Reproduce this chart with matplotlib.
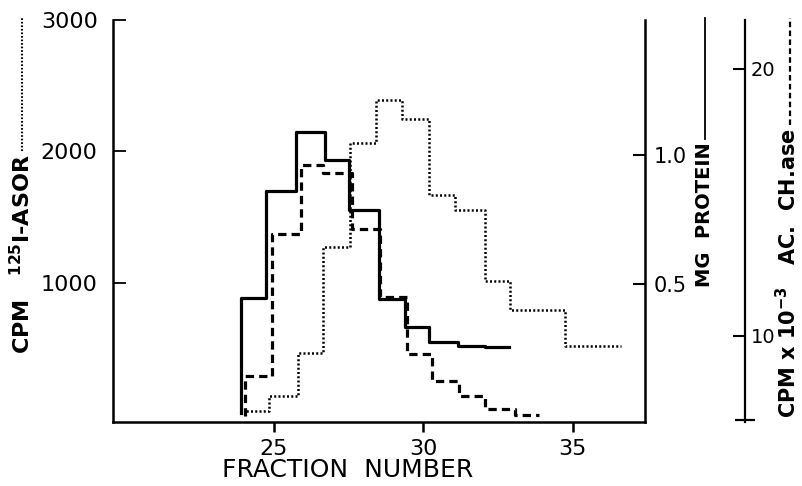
import matplotlib
matplotlib.use("Agg")
import matplotlib.pyplot as plt
from matplotlib.lines import Line2D

# step edges (fraction number) and step heights
asor_edges = [24.05, 24.85, 25.8, 26.65, 27.55, 28.4, 29.3, 30.2, 31.05, 32.05, 32.9, 34.75, 36.6]
asor_cpm = [25, 135, 465, 1270, 2060, 2390, 2245, 1665, 1555, 1010, 790, 515]

protein_edges = [23.9, 24.75, 25.75, 26.7, 27.5, 28.5, 29.4, 30.2, 31.15, 32.05, 32.85]
protein_mg = [0.445, 0.86, 1.09, 0.98, 0.785, 0.44, 0.335, 0.275, 0.26, 0.255]

ache_edges = [24.05, 24.95, 25.9, 26.65, 27.6, 28.55, 29.45, 30.3, 31.2, 32.05, 33.05, 33.85]
ache_cpm_k = [8.5, 13.8, 16.4, 16.1, 14.0, 11.45, 9.3, 8.3, 7.75, 7.25, 7.05]
ache_base = 7.0

x_ticks = [25, 30, 35]
asor_ticks = [1000, 2000, 3000]
protein_ticks = [0.5, 1.0]
ache_ticks = [10, 20]


def stair_xy(edges, values, base):
    xs = [edges[0]] + list(edges)
    ys = [base] + list(values) + [values[-1]]
    return xs, ys


W, H = 802, 486
fig = plt.figure(figsize=(W / 100, H / 100), dpi=100)
ax = fig.add_axes([113 / W, 1 - 422 / H, (645 - 113) / W, (422 - 20) / H])
ax2 = ax.twinx()
ax3 = ax.twinx()

xs, ys = stair_xy(asor_edges, asor_cpm, 0)
ax.step(xs, ys, where='post', color='k', lw=1.8, ls=(0, (0.8, 0.9)))
xs, ys = stair_xy(protein_edges, protein_mg, 0)
ax2.step(xs, ys, where='post', color='k', lw=2.3)
xs, ys = stair_xy(ache_edges, ache_cpm_k, ache_base)
ax3.step(xs, ys, where='post', color='k', lw=2.3, ls=(0, (2.6, 1.6)))

ax.set_xlim(19.62, 37.41)
ax.set_ylim(-61, 3000)
ax2.set_ylim(-0.035, 1.523)
ax3.set_ylim(6.77, 21.82)

for s in ['top', 'right']:
    ax.spines[s].set_visible(False)
for s in ['top', 'left', 'bottom']:
    ax2.spines[s].set_visible(False)
    ax3.spines[s].set_visible(False)
ax.spines['left'].set_linewidth(1.8)
ax.spines['bottom'].set_linewidth(1.8)
ax2.spines['right'].set_linewidth(1.8)
ax3.spines['right'].set_linewidth(1.6)
ax3.spines['right'].set_position(('axes', (745 - 113) / (645 - 113)))

ax.set_xticks(x_ticks)
ax.tick_params(axis='x', direction='out', length=7, width=1.8, pad=5, labelsize=16)
ax.set_yticks(asor_ticks)
ax.tick_params(axis='y', direction='in', length=9, width=1.3, pad=11, labelsize=16)
ax2.set_yticks(protein_ticks)
ax2.set_yticklabels(['0.5', '1.0'])
ax2.tick_params(axis='y', direction='in', length=9, width=1.5, pad=6, labelsize=15)
ax3.set_yticks(ache_ticks)
ax3.tick_params(axis='y', direction='in', length=9, width=1.5, pad=4, labelsize=14)
ax3.set_yticks([6.85], minor=True)
ax3.tick_params(axis='y', which='minor', direction='inout', length=14, width=1.6)

ax.set_xlabel("FRACTION  NUMBER", fontsize=18)
ax.xaxis.set_label_coords((348 - 113) / (645 - 113), (422 - 458) / (422 - 20))

# rotated axis titles, each followed by a sample of its line style
t1 = fig.text(22 / W, 1 - 354 / H, r"CPM   $^{\mathbf{125}}$I-ASOR", rotation=90,
              rotation_mode='anchor', ha='left', va='center', fontsize=16, fontweight='bold')
t2 = fig.text(705 / W, 1 - 287 / H, "MG  PROTEIN", rotation=90,
              rotation_mode='anchor', ha='left', va='center', fontsize=14, fontweight='bold')
t3 = fig.text(788 / W, 1 - 418 / H, r"CPM x 10$^{\mathbf{-3}}$   AC.  CH.ase", rotation=90,
              rotation_mode='anchor', ha='left', va='center', fontsize=15, fontweight='bold')

fig.canvas.draw()
for t, x, style, lw in [(t1, 22, (0, (0.8, 0.9)), 1.5), (t2, 705, '-', 1.3), (t3, 790, (0, (2.5, 1.5)), 1.6)]:
    bb = t.get_window_extent()
    y0 = (bb.y1 + 3) / fig.bbox.height
    fig.add_artist(Line2D([x / W, x / W], [y0, 1 - 18 / H], transform=fig.transFigure,
                          color='k', lw=lw, ls=style))

fig.savefig("out.png", dpi=100)
